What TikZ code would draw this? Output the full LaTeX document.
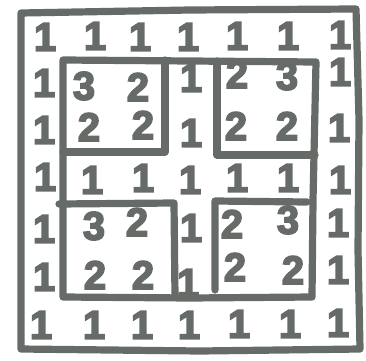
\documentclass[tikz,border=0pt]{standalone}
\usepackage{fontspec}
\newfontfamily\hand{Liberation Sans}[BoldFeatures={FakeBold=4}]
\definecolor{ink}{RGB}{102,107,104}
\begin{document}
\begin{tikzpicture}[x=0.75pt,y=-0.75pt,
  wall/.style={draw=ink, line width=5.4pt, line cap=round, line join=round},
  digit/.style={text=ink, font=\hand\bfseries\fontsize{30}{30}\selectfont, inner sep=0pt}]
\useasboundingbox (0,0) rectangle (366,360);
% outer frame
\draw[wall] (21,13) -- (190,10) -- (356,9) -- (359,120) -- (358,250) -- (360,349) -- (200,351) -- (21,349) -- cycle;
% big inner square
\draw[wall] (63,60) -- (190,61) -- (316,62) -- (313,200) -- (312,297) -- (190,298) -- (63,297) -- cycle;
% top-left sub-square
\draw[wall] (165,60) -- (165,152) -- (63,152);
% top-right sub-square
\draw[wall] (217,61) -- (217,155) -- (315,155);
% bottom-left sub-square
\draw[wall] (59,204) -- (174,203) -- (175,297);
% bottom-right sub-square
\draw[wall] (215,290) -- (215,201) -- (307,202);
% ones
\foreach \x/\y [count=\i] in {
  45/37, 95/36, 140/37, 188/37, 237/36, 288/36, 340/35,
  44/83, 191/78, 340/72,
  44/130, 191/133, 339/128,
  45/177, 92/180, 143/178, 190/180, 237/178, 288/178, 340/180,
  44/229, 191/228, 338/223,
  44/277, 188/283, 338/270,
  41/325, 94/325, 142/325, 189/325, 239/324, 290/324, 338/323}
  \node[digit] (one\i) at (\x,\y) {1};
% top-left numbers
\node[digit] (tla) at (84,86) {3};
\node[digit] (tlb) at (138,87) {2};
\node[digit] (tlc) at (89,127) {2};
\node[digit] (tld) at (143,125) {2};
% top-right numbers
\node[digit] (tra) at (237,74) {2};
\node[digit] (trb) at (287,76) {3};
\node[digit] (trc) at (236,126) {2};
\node[digit] (trd) at (287,126) {2};
% bottom-left numbers
\node[digit] (bla) at (94,226) {3};
\node[digit] (blb) at (137,222) {2};
\node[digit] (blc) at (95,275) {2};
\node[digit] (bld) at (143,275) {2};
% bottom-right numbers
\node[digit] (bra) at (232,224) {2};
\node[digit] (brb) at (288,220) {3};
\node[digit] (brc) at (235,267) {2};
\node[digit] (brd) at (293,270) {2};
\end{tikzpicture}
\end{document}
